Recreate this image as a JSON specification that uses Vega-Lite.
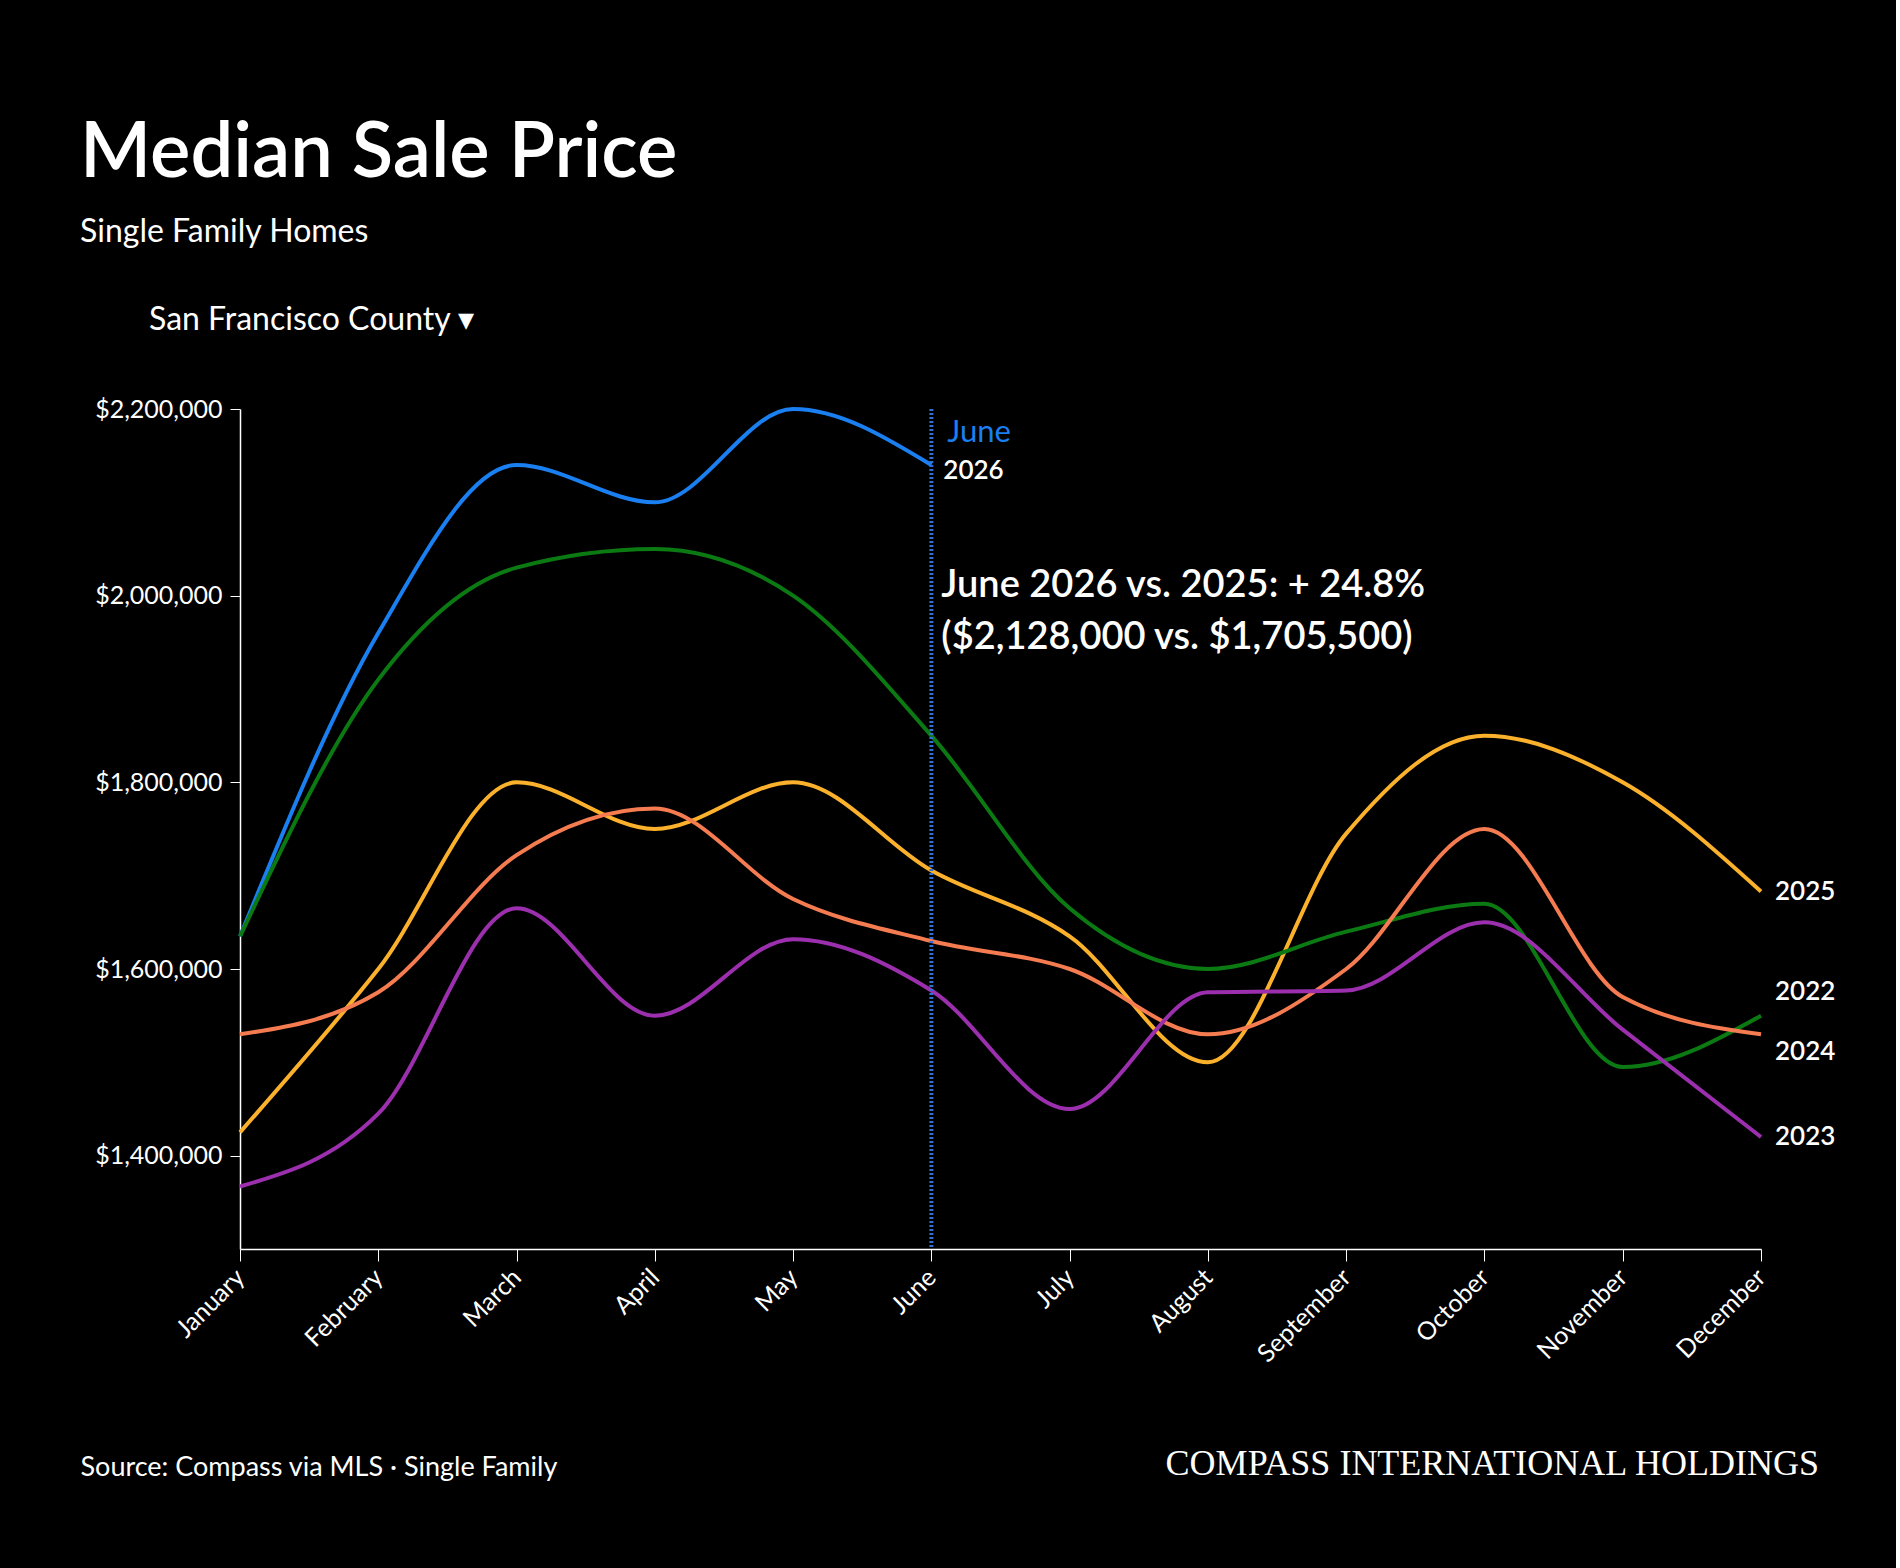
{
  "$schema": "https://vega.github.io/schema/vega-lite/v6.json",
  "background": "#000000",
  "padding": {"left": 80, "top": 116, "right": 60, "bottom": 106},
  "width": 1521,
  "height": 840,
  "title": {
    "text": "Median Sale Price",
    "subtitle": ["Single Family Homes", "⠀", "⠀⠀⠀San Francisco County ▾"],
    "anchor": "start",
    "frame": "group",
    "dx": -160,
    "offset": 60,
    "font": "Lato",
    "fontSize": 76,
    "fontWeight": 600,
    "color": "#ffffff",
    "subtitleFont": "Lato",
    "subtitleFontSize": 32,
    "subtitleColor": "#ffffff",
    "subtitlePadding": 24,
    "subtitleLineHeight": 44
  },
  "config": {
    "view": {"stroke": null},
    "font": "Lato"
  },
  "datasets": {
    "prices": [
      {"year": "2026", "month": "January", "price": 1635000},
      {"year": "2026", "month": "February", "price": 1960000},
      {"year": "2026", "month": "March", "price": 2140000},
      {"year": "2026", "month": "April", "price": 2100000},
      {"year": "2026", "month": "May", "price": 2200000},
      {"year": "2026", "month": "June", "price": 2140000},
      {"year": "2025", "month": "January", "price": 1425000},
      {"year": "2025", "month": "February", "price": 1600000},
      {"year": "2025", "month": "March", "price": 1800000},
      {"year": "2025", "month": "April", "price": 1750000},
      {"year": "2025", "month": "May", "price": 1800000},
      {"year": "2025", "month": "June", "price": 1705500},
      {"year": "2025", "month": "July", "price": 1635000},
      {"year": "2025", "month": "August", "price": 1500000},
      {"year": "2025", "month": "September", "price": 1745000},
      {"year": "2025", "month": "October", "price": 1850000},
      {"year": "2025", "month": "November", "price": 1800000},
      {"year": "2025", "month": "December", "price": 1683000},
      {"year": "2022", "month": "January", "price": 1635000},
      {"year": "2022", "month": "February", "price": 1910000},
      {"year": "2022", "month": "March", "price": 2030000},
      {"year": "2022", "month": "April", "price": 2050000},
      {"year": "2022", "month": "May", "price": 2000000},
      {"year": "2022", "month": "June", "price": 1850000},
      {"year": "2022", "month": "July", "price": 1665000},
      {"year": "2022", "month": "August", "price": 1600000},
      {"year": "2022", "month": "September", "price": 1640000},
      {"year": "2022", "month": "October", "price": 1670000},
      {"year": "2022", "month": "November", "price": 1495000},
      {"year": "2022", "month": "December", "price": 1550000},
      {"year": "2024", "month": "January", "price": 1530000},
      {"year": "2024", "month": "February", "price": 1575000},
      {"year": "2024", "month": "March", "price": 1722000},
      {"year": "2024", "month": "April", "price": 1772000},
      {"year": "2024", "month": "May", "price": 1675000},
      {"year": "2024", "month": "June", "price": 1630000},
      {"year": "2024", "month": "July", "price": 1600000},
      {"year": "2024", "month": "August", "price": 1530000},
      {"year": "2024", "month": "September", "price": 1600000},
      {"year": "2024", "month": "October", "price": 1750000},
      {"year": "2024", "month": "November", "price": 1570000},
      {"year": "2024", "month": "December", "price": 1530000},
      {"year": "2023", "month": "January", "price": 1367000},
      {"year": "2023", "month": "February", "price": 1445000},
      {"year": "2023", "month": "March", "price": 1665000},
      {"year": "2023", "month": "April", "price": 1550000},
      {"year": "2023", "month": "May", "price": 1632000},
      {"year": "2023", "month": "June", "price": 1577000},
      {"year": "2023", "month": "July", "price": 1450000},
      {"year": "2023", "month": "August", "price": 1575000},
      {"year": "2023", "month": "September", "price": 1577000},
      {"year": "2023", "month": "October", "price": 1650000},
      {"year": "2023", "month": "November", "price": 1535000},
      {"year": "2023", "month": "December", "price": 1420000}
    ]
  },
  "data": {"name": "prices"},
  "encoding": {
    "x": {
      "field": "month",
      "type": "ordinal",
      "sort": ["January", "February", "March", "April", "May", "June", "July", "August", "September", "October", "November", "December"],
      "scale": {"type": "point", "padding": 0},
      "axis": {
        "title": "Source: Compass via MLS · Single Family",
        "titleAnchor": "start",
        "titleAlign": "left",
        "titleX": -160,
        "titlePadding": 88,
        "titleFont": "Lato",
        "titleFontSize": 27,
        "titleFontWeight": "normal",
        "titleColor": "#ffffff",
        "labelAngle": -45,
        "labelAlign": "right",
        "labelBaseline": "middle",
        "labelFontSize": 25,
        "labelColor": "#ffffff",
        "labelPadding": 12,
        "domainColor": "#ffffff",
        "tickColor": "#ffffff",
        "tickSize": 12,
        "domainWidth": 1.5,
        "grid": false
      }
    },
    "y": {
      "field": "price",
      "type": "quantitative",
      "scale": {"domain": [1300000, 2200000], "nice": false},
      "axis": {
        "title": null,
        "values": [1400000, 1600000, 1800000, 2000000, 2200000],
        "format": "$,.0f",
        "labelFontSize": 25,
        "labelColor": "#ffffff",
        "labelPadding": 8,
        "domainColor": "#ffffff",
        "tickColor": "#ffffff",
        "tickSize": 10,
        "domainWidth": 1.5,
        "grid": false
      }
    }
  },
  "layer": [
    {
      "mark": {"type": "line", "interpolate": "monotone", "strokeWidth": 4},
      "encoding": {
        "color": {
          "field": "year",
          "type": "nominal",
          "scale": {
            "domain": ["2026", "2025", "2022", "2024", "2023"],
            "range": ["#1a7ff0", "#fbb12b", "#0b7a12", "#f57b51", "#9b2fae"]
          },
          "legend": null
        }
      }
    },
    {
      "transform": [{"filter": "datum.month == 'June' && datum.year == '2026'"}],
      "mark": {"type": "rule", "color": "#2f6fd6", "strokeWidth": 4, "strokeDash": [2, 2]},
      "encoding": {"y": null}
    },
    {
      "transform": [{"filter": "datum.month == 'June' && datum.year == '2026'"}],
      "mark": {"type": "text", "align": "left", "dx": 16, "color": "#1a7ff0", "fontSize": 31},
      "encoding": {"y": {"datum": 2174000}, "text": {"value": "June"}}
    },
    {
      "transform": [{"filter": "datum.month == 'June' && datum.year == '2026'"}],
      "mark": {"type": "text", "align": "left", "dx": 12, "color": "#ffffff", "fontSize": 26, "fontWeight": 600},
      "encoding": {"y": {"datum": 2134000}, "text": {"value": "2026"}}
    },
    {
      "transform": [{"filter": "datum.month == 'June' && datum.year == '2026'"}],
      "mark": {"type": "text", "align": "left", "baseline": "middle", "dx": 10, "color": "#ffffff", "fontSize": 38, "fontWeight": 600, "lineHeight": 52},
      "encoding": {
        "y": {"datum": 2010000},
        "text": {"value": ["June 2026 vs. 2025: + 24.8%", "($2,128,000 vs. $1,705,500)"]}
      }
    },
    {
      "transform": [{"filter": "datum.month == 'December' && (datum.year == '2025' || datum.year == '2023')"}],
      "mark": {"type": "text", "align": "left", "baseline": "middle", "dx": 14, "color": "#ffffff", "fontSize": 26, "fontWeight": 600},
      "encoding": {"text": {"field": "year"}}
    },
    {
      "transform": [{"filter": "datum.month == 'December' && datum.year == '2022'"}],
      "mark": {"type": "text", "align": "left", "baseline": "middle", "dx": 14, "dy": -24, "color": "#ffffff", "fontSize": 26, "fontWeight": 600},
      "encoding": {"text": {"field": "year"}}
    },
    {
      "transform": [{"filter": "datum.month == 'December' && datum.year == '2024'"}],
      "mark": {"type": "text", "align": "left", "baseline": "middle", "dx": 14, "dy": 18, "color": "#ffffff", "fontSize": 26, "fontWeight": 600},
      "encoding": {"text": {"field": "year"}}
    },
    {
      "transform": [{"filter": "datum.month == 'December' && datum.year == '2024'"}],
      "mark": {"type": "text", "align": "right", "baseline": "alphabetic", "dy": 226, "dx": 58, "color": "#ffffff", "font": "Liberation Serif", "fontSize": 36},
      "encoding": {"y": {"datum": 1300000}, "text": {"value": "COMPASS INTERNATIONAL HOLDINGS"}}
    }
  ]
}
